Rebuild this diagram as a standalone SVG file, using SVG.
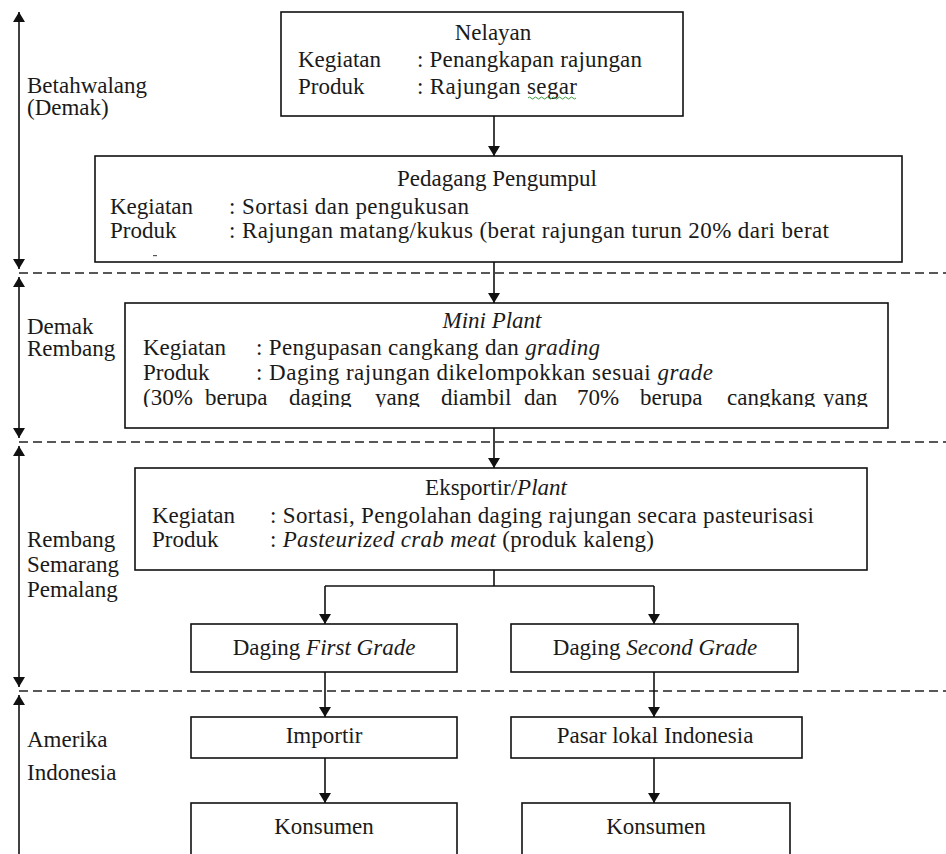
<svg xmlns="http://www.w3.org/2000/svg" width="946" height="854" viewBox="0 0 946 854">
<style>
text{font-family:"Liberation Serif","DejaVu Serif",serif;font-size:23px;fill:#1a1a1a}
.c{text-anchor:middle}
.i{font-style:italic}
.box{fill:#fff;stroke:#111;stroke-width:1.6}
.ln{fill:none;stroke:#111;stroke-width:1.6}
.dash{fill:none;stroke:#222;stroke-width:1.5;stroke-dasharray:9 5}
</style>
<defs>
<marker id="ah" viewBox="0 0 10 12" refX="10" refY="6" markerWidth="10" markerHeight="12" markerUnits="userSpaceOnUse" orient="auto-start-reverse">
<path d="M0,0 L10,6 L0,12 Z" fill="#111"/>
</marker>
<clipPath id="clipMini"><rect x="126" y="304" width="760" height="103"/></clipPath>
</defs>
<rect width="946" height="854" fill="#fff"/>

<g id="dividers">
<line class="dash" x1="19" y1="273" x2="946" y2="273"/>
<line class="dash" x1="19" y1="442" x2="946" y2="442"/>
<line class="dash" x1="19" y1="691" x2="946" y2="691"/>
</g>

<g id="axis">
<line class="ln" x1="19" y1="12" x2="19" y2="269" marker-start="url(#ah)" marker-end="url(#ah)"/>
<line class="ln" x1="19" y1="277" x2="19" y2="438" marker-start="url(#ah)" marker-end="url(#ah)"/>
<line class="ln" x1="19" y1="446" x2="19" y2="687" marker-start="url(#ah)" marker-end="url(#ah)"/>
<line class="ln" x1="19" y1="695" x2="19" y2="866" marker-start="url(#ah)" marker-end="url(#ah)"/>
<text x="27" y="93">Betahwalang</text>
<text x="27" y="115">(Demak)</text>
<text x="27" y="334">Demak</text>
<text x="27" y="356">Rembang</text>
<text x="27" y="547">Rembang</text>
<text x="27" y="572">Semarang</text>
<text x="27" y="597">Pemalang</text>
<text x="27" y="747">Amerika</text>
<text x="27" y="780">Indonesia</text>
</g>

<g id="nelayan">
<rect class="box" x="281" y="12" width="402" height="104"/>
<text class="c" x="493" y="40">Nelayan</text>
<text x="298" y="67">Kegiatan</text>
<text x="417" y="67" textLength="225" lengthAdjust="spacing">: Penangkapan rajungan</text>
<text x="298" y="94">Produk</text>
<text x="417" y="94" textLength="160" lengthAdjust="spacing">: Rajungan segar</text>
<path d="M528,98 q1.5,-2 3,0 t3,0 t3,0 t3,0 t3,0 t3,0 t3,0 t3,0 t3,0 t3,0 t3,0 t3,0 t3,0 t3,0 t3,0 t3,0" fill="none" stroke="#3a9a3a" stroke-width="1"/>
</g>

<g id="pedagang">
<rect class="box" x="95" y="156" width="807" height="106"/>
<text class="c" x="497" y="186">Pedagang Pengumpul</text>
<text x="110" y="214">Kegiatan</text>
<text x="229" y="214" textLength="240" lengthAdjust="spacing">: Sortasi dan pengukusan</text>
<text x="110" y="238">Produk</text>
<text x="229" y="238" textLength="600" lengthAdjust="spacing">: Rajungan matang/kukus (berat rajungan turun 20% dari berat</text>
<rect x="153" y="255" width="4" height="1.2" fill="#555"/>
</g>

<g id="miniplant">
<rect class="box" x="125" y="303" width="763" height="125"/>
<text class="c i" x="492" y="328">Mini Plant</text>
<text x="143" y="355">Kegiatan</text>
<text x="256" y="355" textLength="344" lengthAdjust="spacing">: Pengupasan cangkang dan <tspan class="i">grading</tspan></text>
<text x="143" y="380">Produk</text>
<text x="256" y="380" textLength="457" lengthAdjust="spacing">: Daging rajungan dikelompokkan sesuai <tspan class="i">grade</tspan></text>
<text y="405" clip-path="url(#clipMini)"><tspan x="143">(30%</tspan><tspan x="205">berupa</tspan><tspan x="289">daging</tspan><tspan x="375">yang</tspan><tspan x="441">diambil</tspan><tspan x="524">dan</tspan><tspan x="577">70%</tspan><tspan x="640">berupa</tspan><tspan x="727">cangkang</tspan><tspan x="823">yang</tspan></text>
</g>

<g id="eksportir">
<rect class="box" x="135" y="468" width="732" height="102"/>
<text class="c" x="496" y="495">Eksportir/<tspan class="i">Plant</tspan></text>
<text x="152" y="523">Kegiatan</text>
<text x="270" y="523" textLength="544" lengthAdjust="spacing">: Sortasi, Pengolahan daging rajungan secara pasteurisasi</text>
<text x="152" y="547">Produk</text>
<text x="270" y="547" textLength="384" lengthAdjust="spacing">: <tspan class="i">Pasteurized crab meat</tspan> (produk kaleng)</text>
</g>

<g id="first-grade">
<rect class="box" x="191" y="624" width="266" height="48"/>
<text class="c" x="324" y="655">Daging <tspan class="i">First Grade</tspan></text>
</g>
<g id="second-grade">
<rect class="box" x="511" y="624" width="287" height="48"/>
<text class="c" x="655" y="655">Daging <tspan class="i">Second Grade</tspan></text>
</g>
<g id="importir">
<rect class="box" x="191" y="717" width="266" height="41"/>
<text class="c" x="324" y="743">Importir</text>
</g>
<g id="pasar-lokal">
<rect class="box" x="511" y="717" width="291" height="41"/>
<text class="c" x="655" y="743">Pasar lokal Indonesia</text>
</g>
<g id="konsumen-1">
<rect class="box" x="191" y="803" width="266" height="70"/>
<text class="c" x="324" y="834">Konsumen</text>
</g>
<g id="konsumen-2">
<rect class="box" x="522" y="803" width="268" height="70"/>
<text class="c" x="656" y="834">Konsumen</text>
</g>

<g id="connectors">
<line class="ln" x1="494" y1="116" x2="494" y2="156" marker-end="url(#ah)"/>
<line class="ln" x1="494" y1="262" x2="494" y2="303" marker-end="url(#ah)"/>
<line class="ln" x1="494" y1="428" x2="494" y2="468" marker-end="url(#ah)"/>
<polyline class="ln" points="494,570 494,586"/>
<polyline class="ln" points="325,586 654,586"/>
<line class="ln" x1="325" y1="586" x2="325" y2="624" marker-end="url(#ah)"/>
<line class="ln" x1="654" y1="586" x2="654" y2="624" marker-end="url(#ah)"/>
<line class="ln" x1="325" y1="672" x2="325" y2="717" marker-end="url(#ah)"/>
<line class="ln" x1="654" y1="672" x2="654" y2="717" marker-end="url(#ah)"/>
<line class="ln" x1="325" y1="758" x2="325" y2="803" marker-end="url(#ah)"/>
<line class="ln" x1="654" y1="758" x2="654" y2="803" marker-end="url(#ah)"/>
</g>
</svg>
